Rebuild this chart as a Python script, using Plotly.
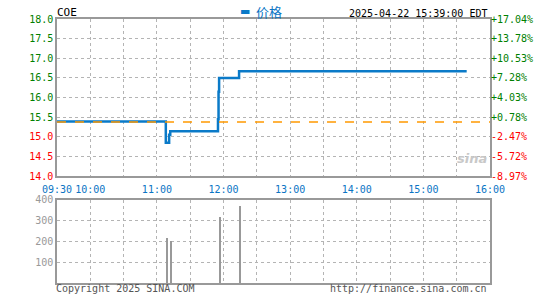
import plotly.graph_objects as go

# ---- data ----
price_times = ["2025-04-22 09:30", "2025-04-22 11:07", "2025-04-22 11:08", "2025-04-22 11:11",
               "2025-04-22 11:12", "2025-04-22 11:55", "2025-04-22 11:55:30", "2025-04-22 11:56",
               "2025-04-22 12:14", "2025-04-22 15:39"]
price_values = [15.39, 15.39, 14.85, 15.05, 15.14, 15.45, 16.15, 16.50, 16.67, 16.67]
prev_close = 15.38
vol_times = ["2025-04-22 11:09", "2025-04-22 11:13", "2025-04-22 11:57", "2025-04-22 12:15"]
vol_values = [216, 201, 320, 373]

y_ticks = [14.0, 14.5, 15.0, 15.5, 16.0, 16.5, 17.0, 17.5, 18.0]
y_labels = ["14.0", "14.5", "15.0", "15.5", "16.0", "16.5", "17.0", "17.5", "18.0"]
pct_labels = ["-8.97%", "-5.72%", "-2.47%", "+0.78%", "+4.03%", "+7.28%", "+10.53%", "+13.78%", "+17.04%"]
x_ticks = ["2025-04-22 09:30", "2025-04-22 10:00", "2025-04-22 10:30", "2025-04-22 11:00",
           "2025-04-22 11:30", "2025-04-22 12:00", "2025-04-22 12:30", "2025-04-22 13:00",
           "2025-04-22 13:30", "2025-04-22 14:00", "2025-04-22 14:30", "2025-04-22 15:00",
           "2025-04-22 15:30", "2025-04-22 16:00"]
x_labels = ["09:30", "10:00", "", "11:00", "", "12:00", "", "13:00", "", "14:00", "", "15:00", "", "16:00"]
vol_ticks = [100, 200, 300, 400]
vol_labels = ["100", "200", "300", "400"]

GREEN = "#008000"
RED = "#ff0000"
BLUE = "#0a7ac8"
XBLUE = "#0a74c4"
GRID = "#b4b4b4"
BORDER = "#999999"
MONO = "DejaVu Sans Mono"
X_RANGE = ["2025-04-22 09:30", "2025-04-22 16:00"]


def colored(labels, values):
    out = []
    for lab, v in zip(labels, values):
        c = RED if v < prev_close else GREEN
        out.append(f"<span style='color:{c}'>{lab}</span>")
    return out


fig = go.Figure()

fig.add_trace(go.Scatter(x=X_RANGE, y=[prev_close, prev_close], mode="lines",
                         line=dict(color="#ff9900", width=1.5, dash="dash"),
                         xaxis="x", yaxis="y2", hoverinfo="skip", showlegend=False))
fig.add_trace(go.Scatter(x=price_times, y=price_values, mode="lines",
                         line=dict(color=BLUE, width=2.5, shape="hv"),
                         xaxis="x", yaxis="y", name="价格", showlegend=False))
fig.add_trace(go.Bar(x=vol_times, y=vol_values, width=45000,
                     marker=dict(color="#999999", line=dict(width=0)),
                     xaxis="x2", yaxis="y3", showlegend=False))

axis_common = dict(showline=True, linecolor=BORDER, linewidth=1.5, mirror=True,
                   showgrid=True, gridcolor=GRID, griddash="dot", gridwidth=1,
                   zeroline=False, ticks="")

fig.update_layout(
    width=545, height=300,
    margin=dict(l=57, r=52, t=19, b=15),
    paper_bgcolor="white", plot_bgcolor="white",
    font=dict(family=MONO, size=10),
    bargap=0,
    xaxis=dict(axis_common, type="date", range=X_RANGE, domain=[0, 1], anchor="y",
               tickmode="array", tickvals=x_ticks, ticktext=x_labels, ticklabelstandoff=3,
               tickfont=dict(color=XBLUE, size=10, family=MONO)),
    yaxis=dict(axis_common, range=[14.0, 18.0], domain=[0.405, 1], anchor="x",
               tickmode="array", tickvals=y_ticks, ticktext=colored(y_labels, y_ticks),
               tickfont=dict(size=10, family=MONO)),
    yaxis2=dict(range=[14.0, 18.0], overlaying="y", side="right", anchor="x",
                showgrid=False, zeroline=False, showline=False, ticks="",
                tickmode="array", tickvals=y_ticks, ticktext=colored(pct_labels, y_ticks),
                tickfont=dict(size=10, family=MONO)),
    xaxis2=dict(axis_common, type="date", range=X_RANGE, domain=[0, 1], anchor="y3",
                tickmode="array", tickvals=x_ticks, showticklabels=False),
    yaxis3=dict(axis_common, range=[0, 400], domain=[0, 0.315], anchor="x2",
                tickmode="array", tickvals=vol_ticks, ticktext=vol_labels,
                tickfont=dict(color="#999999", size=10, family=MONO)),
    annotations=[
        dict(text="COE", x=0, y=1, xref="paper", yref="paper", xanchor="left", yanchor="bottom",
             showarrow=False, font=dict(family=MONO, size=11, color="black"), yshift=-2, xshift=-2),
        dict(text="▬", x=0.419, y=1, xref="paper", yref="paper", xanchor="left",
             yanchor="bottom", showarrow=False, font=dict(family="DejaVu Sans", size=11, color=BLUE),
             yshift=-1),
        dict(text="价格", x=0.455, y=1, xref="paper", yref="paper", xanchor="left",
             yanchor="bottom", showarrow=False,
             font=dict(family="Noto Sans CJK SC", size=13, color=XBLUE), yshift=-4),
        dict(text="2025-04-22 15:39:00 EDT", x=1, y=1, xref="paper", yref="paper",
             xanchor="right", yanchor="bottom", showarrow=False,
             font=dict(family=MONO, size=10, color="black"), yshift=-2, xshift=-1),
        dict(text="Copyright 2025 SINA.COM", x=0, y=0, xref="paper", yref="paper",
             xanchor="left", yanchor="top", showarrow=False,
             font=dict(family=MONO, size=10, color="#555555"), xshift=-3, yshift=2),
        dict(text="http://finance.sina.com.cn", x=1, y=0, xref="paper", yref="paper",
             xanchor="right", yanchor="top", showarrow=False,
             font=dict(family=MONO, size=10, color="#555555"), xshift=-1, yshift=2),
        dict(text="<i><b>sina</b></i>", x=0.998, y=0.435, xref="paper", yref="paper",
             xanchor="right", yanchor="bottom", showarrow=False,
             font=dict(family="DejaVu Sans", size=13, color="#c8c8c8")),
    ],
)

fig.write_html("out.html")
